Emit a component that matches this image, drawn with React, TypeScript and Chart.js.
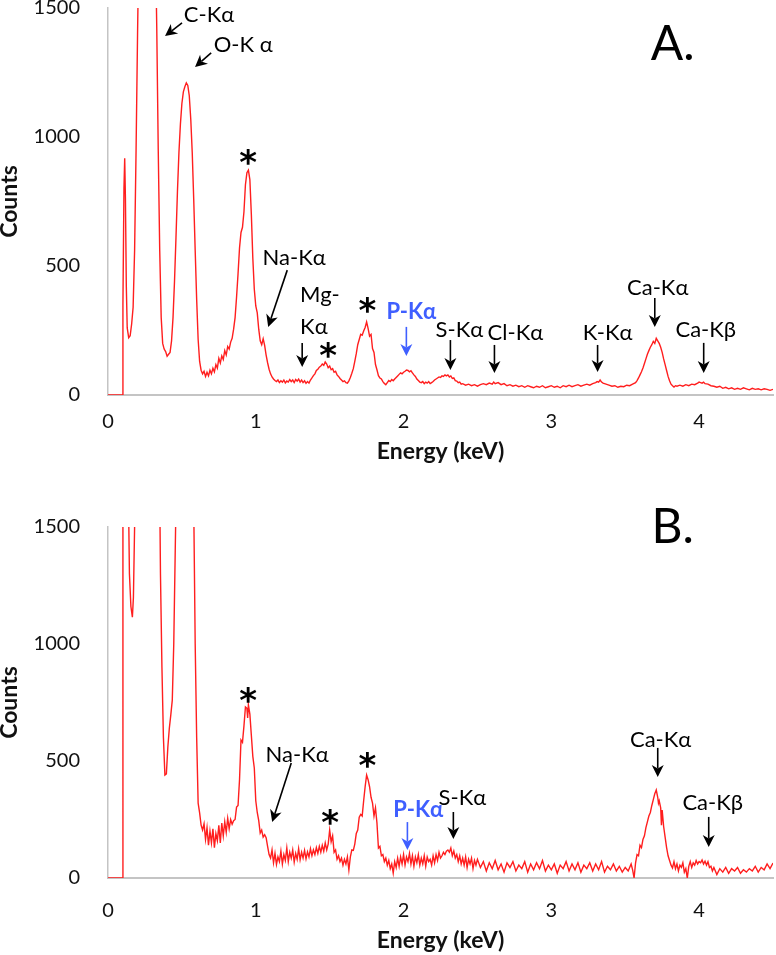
import React, { useEffect, useRef } from 'react';
import { Chart, registerables } from 'chart.js';
Chart.register(...registerables);

const FONT = "Lato, 'Noto Sans', 'DejaVu Sans', sans-serif";

// ---------- data ----------
const xTicks = [0, 1, 2, 3, 4];
const yTicks = [0, 500, 1000, 1500];
const xMax = 4.5;
const yMax = 1500;

// Spectrum A: [energy keV, counts]
const spectrumA: [number, number][] = [
  [0, 0], [0.05, 0], [0.1, 0], [0.101, 350], [0.108, 800], [0.113, 918], [0.118, 760], [0.124, 420],
  [0.13, 260], [0.14, 222], [0.15, 230], [0.16, 275], [0.17, 340], [0.18, 560], [0.19, 950], [0.2, 1400],
  [0.21, 1800], [0.23, 2600], [0.26, 3000], [0.29, 2800], [0.31, 2200], [0.32, 1800], [0.33, 1420], [0.34, 950],
  [0.35, 560], [0.36, 300], [0.37, 200], [0.38, 178], [0.39, 168], [0.4, 150], [0.41, 158], [0.42, 165],
  [0.43, 210], [0.44, 300], [0.45, 440], [0.46, 610], [0.47, 790], [0.48, 940], [0.49, 1050], [0.5, 1130],
  [0.51, 1175], [0.52, 1195], [0.53, 1210], [0.54, 1200], [0.55, 1160], [0.56, 1070], [0.57, 940], [0.58, 760],
  [0.59, 560], [0.6, 370], [0.61, 215], [0.62, 130], [0.63, 96], [0.64, 82], [0.65, 92], [0.66, 72],
  [0.67, 88], [0.68, 74], [0.69, 96], [0.7, 82], [0.71, 104], [0.72, 90], [0.73, 118], [0.74, 104],
  [0.75, 142], [0.76, 124], [0.77, 152], [0.78, 138], [0.79, 172], [0.8, 155], [0.81, 188], [0.82, 178],
  [0.83, 205], [0.84, 220], [0.85, 255], [0.86, 300], [0.87, 380], [0.88, 470], [0.89, 570], [0.9, 630],
  [0.91, 650], [0.92, 710], [0.93, 815], [0.94, 862], [0.95, 872], [0.96, 835], [0.97, 700], [0.98, 530],
  [0.99, 410], [1.0, 345], [1.01, 318], [1.02, 255], [1.03, 210], [1.04, 195], [1.05, 218], [1.06, 192],
  [1.07, 155], [1.08, 125], [1.09, 100], [1.1, 82], [1.11, 70], [1.12, 62], [1.13, 56], [1.14, 52],
  [1.15, 58], [1.16, 48], [1.17, 55], [1.18, 50], [1.19, 58], [1.2, 47], [1.21, 54], [1.22, 50],
  [1.23, 60], [1.24, 52], [1.25, 58], [1.26, 48], [1.27, 60], [1.28, 54], [1.29, 62], [1.3, 50],
  [1.31, 58], [1.32, 48], [1.33, 55], [1.34, 45], [1.35, 52], [1.36, 46], [1.37, 58], [1.38, 66],
  [1.39, 75], [1.4, 82], [1.41, 95], [1.42, 100], [1.43, 108], [1.44, 112], [1.45, 120], [1.46, 115],
  [1.47, 128], [1.48, 120], [1.49, 106], [1.5, 112], [1.51, 98], [1.52, 102], [1.53, 88], [1.54, 92],
  [1.55, 78], [1.56, 72], [1.57, 64], [1.58, 58], [1.59, 52], [1.6, 55], [1.61, 48], [1.62, 46],
  [1.63, 55], [1.64, 68], [1.65, 84], [1.66, 102], [1.67, 130], [1.68, 160], [1.69, 195], [1.7, 215],
  [1.71, 235], [1.72, 232], [1.73, 248], [1.74, 262], [1.75, 283], [1.76, 258], [1.77, 228], [1.78, 235],
  [1.79, 180], [1.8, 165], [1.81, 118], [1.82, 98], [1.83, 75], [1.84, 66], [1.85, 62], [1.86, 52],
  [1.87, 45], [1.88, 40], [1.89, 48], [1.9, 56], [1.91, 52], [1.92, 60], [1.93, 55], [1.94, 62],
  [1.95, 68], [1.96, 74], [1.97, 80], [1.98, 86], [1.99, 82], [2.0, 88], [2.01, 92], [2.02, 97],
  [2.03, 95], [2.04, 90], [2.05, 94], [2.06, 86], [2.07, 78], [2.08, 72], [2.09, 62], [2.1, 56],
  [2.11, 50], [2.12, 48], [2.13, 52], [2.14, 44], [2.15, 50], [2.16, 46], [2.17, 52], [2.18, 44],
  [2.19, 48], [2.2, 52], [2.21, 58], [2.22, 62], [2.23, 66], [2.24, 70], [2.25, 68], [2.26, 74],
  [2.27, 72], [2.28, 78], [2.29, 74], [2.3, 78], [2.31, 70], [2.32, 74], [2.33, 64], [2.34, 66],
  [2.35, 56], [2.36, 54], [2.37, 48], [2.38, 50], [2.39, 42], [2.4, 44], [2.42, 38], [2.44, 42],
  [2.46, 36], [2.48, 40], [2.5, 34], [2.52, 40], [2.54, 44], [2.56, 40], [2.58, 46], [2.6, 42],
  [2.61, 50], [2.62, 44], [2.64, 48], [2.66, 40], [2.68, 44], [2.7, 36], [2.72, 40], [2.74, 34],
  [2.76, 38], [2.78, 32], [2.8, 36], [2.82, 30], [2.84, 36], [2.86, 32], [2.88, 28], [2.9, 34],
  [2.92, 30], [2.94, 36], [2.96, 28], [2.98, 32], [3.0, 36], [3.02, 30], [3.04, 34], [3.06, 28],
  [3.08, 36], [3.1, 32], [3.12, 38], [3.14, 32], [3.16, 36], [3.18, 40], [3.2, 34], [3.22, 38],
  [3.24, 42], [3.26, 38], [3.28, 44], [3.3, 48], [3.31, 52], [3.32, 50], [3.33, 58], [3.34, 50],
  [3.35, 46], [3.37, 42], [3.39, 38], [3.41, 34], [3.43, 36], [3.45, 30], [3.47, 34], [3.49, 32],
  [3.51, 38], [3.53, 36], [3.55, 42], [3.57, 48], [3.58, 56], [3.59, 66], [3.6, 78], [3.61, 90],
  [3.62, 105], [3.63, 122], [3.64, 140], [3.65, 158], [3.66, 172], [3.67, 185], [3.68, 195], [3.69, 208],
  [3.7, 200], [3.71, 220], [3.72, 210], [3.73, 200], [3.74, 185], [3.75, 165], [3.76, 140], [3.77, 118],
  [3.78, 95], [3.79, 72], [3.8, 55], [3.81, 42], [3.82, 36], [3.83, 31], [3.84, 36], [3.85, 34],
  [3.87, 38], [3.89, 34], [3.91, 40], [3.93, 36], [3.95, 42], [3.97, 40], [3.99, 46], [4.0, 50],
  [4.01, 48], [4.02, 46], [4.03, 50], [4.04, 44], [4.06, 42], [4.08, 36], [4.1, 34], [4.12, 30],
  [4.14, 34], [4.16, 26], [4.18, 30], [4.2, 24], [4.22, 28], [4.24, 22], [4.26, 26], [4.28, 22],
  [4.3, 28], [4.32, 24], [4.34, 20], [4.36, 26], [4.38, 22], [4.4, 24], [4.42, 20], [4.44, 24],
  [4.46, 22], [4.48, 18], [4.5, 22],
];

// Spectrum B: [energy keV, counts]
const spectrumB: [number, number][] = [
  [0, 0], [0.05, 0], [0.1, 0], [0.101, 2500], [0.12, 4000], [0.135, 1800], [0.145, 1300], [0.155, 1160],
  [0.165, 1115], [0.172, 1200], [0.18, 1500], [0.19, 2200], [0.25, 4000], [0.33, 3500], [0.345, 2000], [0.355, 1300],
  [0.365, 900], [0.375, 600], [0.385, 440], [0.395, 445], [0.405, 560], [0.415, 640], [0.425, 697], [0.435, 760],
  [0.445, 1000], [0.455, 1400], [0.465, 1800], [0.5, 4000], [0.57, 2500], [0.58, 1600], [0.59, 1000], [0.6, 600],
  [0.61, 320], [0.62, 278], [0.63, 226], [0.64, 205], [0.65, 232], [0.66, 165], [0.67, 215], [0.68, 140],
  [0.69, 200], [0.7, 150], [0.71, 210], [0.72, 130], [0.73, 190], [0.74, 160], [0.75, 225], [0.76, 150],
  [0.77, 235], [0.78, 180], [0.79, 240], [0.8, 195], [0.81, 255], [0.82, 210], [0.83, 250], [0.84, 230],
  [0.85, 245], [0.86, 250], [0.87, 303], [0.88, 310], [0.89, 420], [0.9, 590], [0.91, 580], [0.92, 650],
  [0.93, 731], [0.94, 725], [0.945, 684], [0.95, 740], [0.96, 700], [0.97, 610], [0.98, 520], [0.99, 470],
  [1.0, 330], [1.01, 280], [1.02, 245], [1.03, 192], [1.04, 205], [1.05, 175], [1.06, 185], [1.07, 172],
  [1.08, 135], [1.09, 100], [1.1, 85], [1.11, 120], [1.12, 65], [1.13, 105], [1.14, 58], [1.15, 90],
  [1.16, 70], [1.17, 115], [1.18, 60], [1.19, 100], [1.2, 75], [1.21, 128], [1.22, 70], [1.23, 110],
  [1.24, 85], [1.25, 120], [1.26, 68], [1.27, 105], [1.28, 80], [1.29, 125], [1.3, 78], [1.31, 110],
  [1.32, 85], [1.33, 118], [1.34, 82], [1.35, 112], [1.36, 90], [1.37, 125], [1.38, 95], [1.39, 120],
  [1.4, 100], [1.41, 130], [1.42, 105], [1.43, 135], [1.44, 110], [1.45, 140], [1.46, 115], [1.47, 150],
  [1.48, 120], [1.49, 145], [1.5, 205], [1.51, 155], [1.52, 180], [1.53, 110], [1.54, 120], [1.55, 80],
  [1.56, 95], [1.57, 70], [1.58, 85], [1.59, 55], [1.6, 80], [1.61, 60], [1.62, 90], [1.63, 34],
  [1.64, 90], [1.65, 120], [1.66, 118], [1.67, 145], [1.68, 190], [1.69, 205], [1.7, 260], [1.71, 272],
  [1.72, 265], [1.73, 330], [1.74, 390], [1.75, 440], [1.76, 420], [1.77, 390], [1.78, 345], [1.79, 320],
  [1.8, 265], [1.81, 300], [1.82, 235], [1.83, 128], [1.84, 135], [1.85, 95], [1.86, 100], [1.87, 70],
  [1.88, 85], [1.89, 55], [1.9, 75], [1.91, 40], [1.92, 60], [1.93, 21], [1.94, 70], [1.95, 45],
  [1.96, 85], [1.97, 50], [1.98, 90], [1.99, 60], [2.0, 100], [2.01, 55], [2.02, 90], [2.03, 70],
  [2.04, 105], [2.05, 60], [2.06, 95], [2.07, 50], [2.08, 90], [2.09, 65], [2.1, 100], [2.11, 55],
  [2.12, 85], [2.13, 60], [2.14, 95], [2.15, 50], [2.16, 90], [2.17, 70], [2.18, 80], [2.19, 55],
  [2.2, 95], [2.21, 65], [2.22, 100], [2.23, 75], [2.24, 110], [2.25, 85], [2.26, 95], [2.27, 110],
  [2.28, 100], [2.29, 115], [2.3, 120], [2.31, 110], [2.32, 128], [2.33, 95], [2.34, 115], [2.35, 85],
  [2.36, 100], [2.37, 70], [2.38, 95], [2.39, 60], [2.4, 85], [2.41, 55], [2.42, 90], [2.43, 45],
  [2.44, 80], [2.45, 60], [2.46, 85], [2.47, 40], [2.48, 75], [2.49, 55], [2.5, 80], [2.52, 45],
  [2.54, 70], [2.56, 30], [2.58, 65], [2.6, 40], [2.62, 75], [2.64, 35], [2.66, 60], [2.68, 25],
  [2.7, 65], [2.72, 45], [2.74, 70], [2.76, 30], [2.78, 55], [2.8, 40], [2.82, 70], [2.84, 25],
  [2.86, 60], [2.88, 35], [2.9, 65], [2.92, 40], [2.94, 75], [2.96, 30], [2.98, 55], [3.0, 35],
  [3.02, 60], [3.04, 20], [3.06, 55], [3.08, 40], [3.1, 70], [3.12, 30], [3.14, 60], [3.16, 35],
  [3.18, 65], [3.2, 25], [3.22, 55], [3.24, 40], [3.26, 65], [3.28, 30], [3.3, 60], [3.32, 35],
  [3.34, 70], [3.36, 25], [3.38, 50], [3.4, 35], [3.42, 60], [3.44, 30], [3.46, 50], [3.48, 25],
  [3.5, 45], [3.52, 30], [3.54, 60], [3.55, 35], [3.56, 0], [3.57, 65], [3.58, 100], [3.59, 95],
  [3.6, 140], [3.61, 130], [3.62, 165], [3.63, 180], [3.64, 215], [3.65, 240], [3.66, 265], [3.67, 280],
  [3.68, 310], [3.69, 335], [3.7, 360], [3.71, 376], [3.72, 345], [3.725, 320], [3.73, 330], [3.74, 300],
  [3.745, 226], [3.75, 290], [3.76, 220], [3.77, 175], [3.78, 130], [3.79, 95], [3.8, 75], [3.81, 55],
  [3.82, 43], [3.83, 70], [3.84, 40], [3.85, 60], [3.86, 30], [3.87, 55], [3.88, 45], [3.89, 65],
  [3.9, 25], [3.91, 40], [3.92, 0], [3.93, 50], [3.94, 70], [3.95, 45], [3.96, 65], [3.97, 55],
  [3.98, 75], [3.99, 60], [4.0, 70], [4.01, 65], [4.02, 77], [4.03, 60], [4.04, 72], [4.05, 55],
  [4.06, 70], [4.07, 45], [4.08, 50], [4.09, 30], [4.1, 45], [4.12, 15], [4.14, 40], [4.16, 25],
  [4.18, 45], [4.2, 20], [4.22, 40], [4.24, 30], [4.26, 45], [4.28, 20], [4.3, 35], [4.32, 25],
  [4.34, 40], [4.36, 30], [4.38, 50], [4.4, 25], [4.42, 45], [4.44, 35], [4.46, 60], [4.48, 40],
  [4.5, 64],
];

// ---------- annotations (data coordinates: energy, counts) ----------
type Label = { text: string; e: number; c: number; color?: string; bold?: boolean; align?: CanvasTextAlign };
type Arrow = { e1: number; c1: number; e2: number; c2: number; color?: string };
type Star = { e: number; c: number };

const BLUE = '#3f5fff';

const labelsA: Label[] = [
  { text: 'C-Kα', e: 0.684, c: 1473 },
  { text: 'O-K α', e: 0.915, c: 1357 },
  { text: 'Na-Kα', e: 1.26, c: 531 },
  { text: 'Mg-', e: 1.30, c: 388, align: 'left' },
  { text: 'Kα', e: 1.30, c: 264, align: 'left' },
  { text: 'P-Kα', e: 2.053, c: 322, color: BLUE, bold: true },
  { text: 'S-Kα', e: 2.378, c: 252 },
  { text: 'Cl-Kα', e: 2.757, c: 240 },
  { text: 'K-Kα', e: 3.381, c: 240 },
  { text: 'Ca-Kα', e: 3.72, c: 415 },
  { text: 'Ca-Kβ', e: 4.045, c: 252 },
];
const arrowsA: Arrow[] = [
  { e1: 0.501, c1: 1442, e2: 0.386, c2: 1391 },
  { e1: 0.698, c1: 1326, e2: 0.589, c2: 1271 },
  { e1: 1.213, c1: 484, e2: 1.084, c2: 264 },
  { e1: 1.314, c1: 202, e2: 1.314, c2: 109 },
  { e1: 2.019, c1: 264, e2: 2.019, c2: 151, color: BLUE },
  { e1: 2.317, c1: 213, e2: 2.317, c2: 97 },
  { e1: 2.615, c1: 194, e2: 2.615, c2: 85 },
  { e1: 3.313, c1: 194, e2: 3.313, c2: 89 },
  { e1: 3.70, c1: 376, e2: 3.70, c2: 264 },
  { e1: 4.031, c1: 202, e2: 4.031, c2: 85 },
];
const starsA: Star[] = [
  { e: 0.949, c: 930 },
  { e: 1.49, c: 182 },
  { e: 1.755, c: 357 },
];

const labelsB: Label[] = [
  { text: 'Na-Kα', e: 1.28, c: 526 },
  { text: 'P-Kα', e: 2.10, c: 291, color: BLUE, bold: true },
  { text: 'S-Kα', e: 2.398, c: 342 },
  { text: 'Ca-Kα', e: 3.74, c: 590 },
  { text: 'Ca-Kβ', e: 4.092, c: 321 },
];
const arrowsB: Arrow[] = [
  { e1: 1.24, c1: 491, e2: 1.111, c2: 239 },
  { e1: 2.026, c1: 239, e2: 2.026, c2: 120, color: BLUE },
  { e1: 2.337, c1: 282, e2: 2.337, c2: 167 },
  { e1: 3.72, c1: 556, e2: 3.72, c2: 432 },
  { e1: 4.065, c1: 261, e2: 4.065, c2: 132 },
];
const starsB: Star[] = [
  { e: 0.949, c: 791 },
  { e: 1.504, c: 269 },
  { e: 1.755, c: 513 },
];

type PanelProps = {
  spectrum: [number, number][];
  labels: Label[];
  arrows: Arrow[];
  stars: Star[];
  letter: string;
  letterE: number;
  letterC: number;
  top: number;
  height: number;
  padTop: number;
  xAxisHeight: number;
  titlePadBottom: number;
  tickPad: number;
};

function drawArrow(ctx: CanvasRenderingContext2D, x1: number, y1: number, x2: number, y2: number, color: string) {
  const ang = Math.atan2(y2 - y1, x2 - x1);
  const cos = Math.cos(ang), sin = Math.sin(ang);
  const L = 12, W = 6, N = 3.5;
  ctx.strokeStyle = color;
  ctx.fillStyle = color;
  ctx.lineWidth = 1.6;
  ctx.beginPath();
  ctx.moveTo(x1, y1);
  ctx.lineTo(x2 - (L - N) * cos, y2 - (L - N) * sin);
  ctx.stroke();
  ctx.beginPath();
  ctx.moveTo(x2, y2);
  ctx.lineTo(x2 - L * cos + W * sin, y2 - L * sin - W * cos);
  ctx.lineTo(x2 - (L - N) * cos, y2 - (L - N) * sin);
  ctx.lineTo(x2 - L * cos - W * sin, y2 - L * sin + W * cos);
  ctx.closePath();
  ctx.fill();
}

function Panel(p: PanelProps) {
  const ref = useRef<HTMLCanvasElement | null>(null);
  useEffect(() => {
    if (!ref.current) return;
    const annot = {
      id: 'annot',
      afterDatasetsDraw(chart: any) {
        const { ctx } = chart;
        const x = chart.scales.x, y = chart.scales.y;
        ctx.save();
        for (const a of p.arrows) {
          drawArrow(ctx, x.getPixelForValue(a.e1), y.getPixelForValue(a.c1), x.getPixelForValue(a.e2), y.getPixelForValue(a.c2), a.color || '#000');
        }
        ctx.textBaseline = 'middle';
        for (const l of p.labels) {
          ctx.font = `${l.bold ? 'bold ' : ''}22px ${FONT}`;
          ctx.fillStyle = l.color || '#000';
          ctx.textAlign = l.align || 'center';
          ctx.fillText(l.text, x.getPixelForValue(l.e), y.getPixelForValue(l.c));
        }
        ctx.font = `bold 34px 'DejaVu Sans', sans-serif`;
        ctx.fillStyle = '#000';
        ctx.textAlign = 'center';
        ctx.textBaseline = 'alphabetic';
        for (const s of p.stars) {
          ctx.fillText('*', x.getPixelForValue(s.e), y.getPixelForValue(s.c) + 19);
        }
        ctx.font = `48px ${FONT}`;
        ctx.textBaseline = 'middle';
        ctx.fillText(p.letter, x.getPixelForValue(p.letterE), y.getPixelForValue(p.letterC));
        ctx.restore();
      },
    };
    const chart = new Chart(ref.current, {
      type: 'line',
      data: {
        datasets: [
          {
            data: p.spectrum.map(([e, c]) => ({ x: e, y: c })),
            borderColor: '#ff1e1e',
            borderWidth: 1.4,
            pointRadius: 0,
            tension: 0,
            fill: false,
          },
        ],
      },
      options: {
        animation: false,
        responsive: false,
        devicePixelRatio: 1,
        layout: { padding: { left: 0, right: 3, top: p.padTop, bottom: 0 } },
        plugins: { legend: { display: false }, tooltip: { enabled: false }, title: { display: false } },
        scales: {
          x: {
            type: 'linear',
            min: 0,
            max: xMax,
            grid: { display: false },
            border: { display: true, color: '#c4c4c4', width: 2 },
            afterBuildTicks: (s: any) => { s.ticks = xTicks.map((v) => ({ value: v })); },
            afterFit: (s: any) => { s.height = p.xAxisHeight; s.paddingLeft = 0; s.paddingRight = 0; },
            ticks: {
              color: '#111',
              font: { family: FONT, size: 20 },
              padding: p.tickPad,
              maxRotation: 0,
              callback: (v: any) => String(v),
            },
            title: {
              display: true,
              text: 'Energy (keV)',
              color: '#111',
              font: { family: FONT, size: 23, weight: 'bold', lineHeight: 1.2 },
              padding: { top: 0, bottom: p.titlePadBottom },
            },
          },
          y: {
            type: 'linear',
            min: 0,
            max: yMax,
            grid: { display: false },
            border: { display: true, color: '#c4c4c4', width: 1.5 },
            afterBuildTicks: (s: any) => { s.ticks = yTicks.map((v) => ({ value: v })); },
            afterFit: (s: any) => { s.width = 108; s.paddingTop = 0; s.paddingBottom = 0; },
            ticks: {
              color: '#111',
              font: { family: FONT, size: 20, lineHeight: 0.8 },
              padding: 20,
              callback: (v: any) => String(v),
            },
            title: {
              display: true,
              text: 'Counts',
              color: '#111',
              font: { family: FONT, size: 23, weight: 'bold', lineHeight: 0.8 },
              padding: { top: 0, bottom: 0 },
            },
          },
        },
      } as any,
      plugins: [annot],
    });
    return () => chart.destroy();
  }, []);
  return (
    <canvas
      ref={ref}
      width={776}
      height={p.height}
      style={{ position: 'absolute', left: 0, top: p.top, width: 776, height: p.height, display: 'block' }}
    />
  );
}

export default function App() {
  return (
    <div style={{ position: 'absolute', left: 0, top: 0, width: 776, height: 955, background: '#fff', overflow: 'hidden' }}>
      <Panel
        spectrum={spectrumA}
        labels={labelsA}
        arrows={arrowsA}
        stars={starsA}
        letter="A."
        letterE={3.821}
        letterC={1357}
        top={0}
        height={478}
        padTop={8}
        xAxisHeight={83}
        titlePadBottom={12.2}
        tickPad={7}
      />
      <Panel
        spectrum={spectrumB}
        labels={labelsB}
        arrows={arrowsB}
        stars={starsB}
        letter="B."
        letterE={3.821}
        letterC={1496}
        top={478}
        height={477}
        padTop={49}
        xAxisHeight={77}
        titlePadBottom={0.2}
        tickPad={13}
      />
    </div>
  );
}
